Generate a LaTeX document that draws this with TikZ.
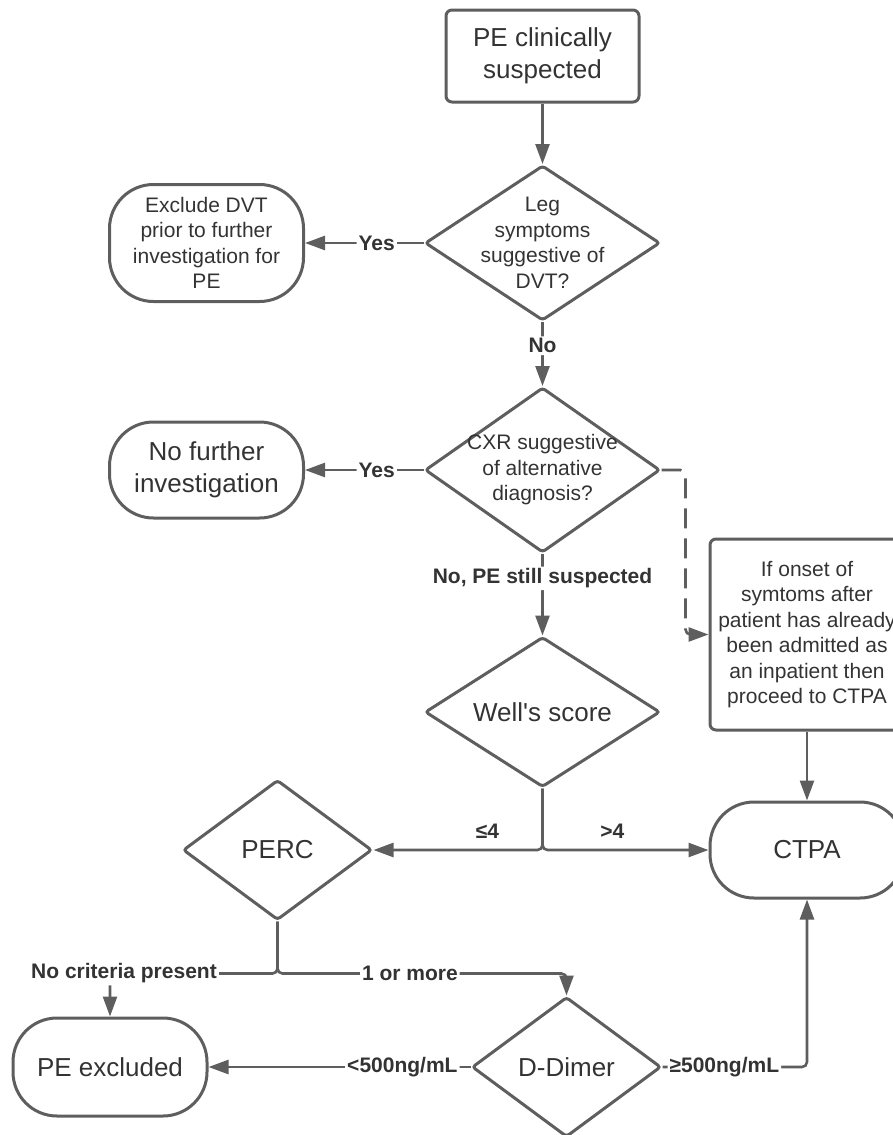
\documentclass[tikz,border=0pt]{standalone}
\usepackage{fontspec}
\setmainfont{Liberation Sans}
\usetikzlibrary{arrows.meta,shapes.geometric}
\definecolor{linegray}{RGB}{94,94,94}
\definecolor{textgray}{RGB}{51,51,51}

\begin{document}
\begin{tikzpicture}[
  x=1pt, y=-1pt,
  >={Triangle[length=20pt,width=14pt]},
  every node/.style={text=textgray},
  bigtext/.style={font=\fontsize{26}{31.5}\selectfont},
  smalltext/.style={font=\fontsize{21}{25.5}\selectfont},
  stepbox/.style={
    draw=linegray,
    line width=3pt,
    rounded corners=6pt,
    align=center,
    inner sep=0pt
  },
  endbox/.style={
    draw=linegray,
    line width=3pt,
    rounded corners=44pt,
    align=center,
    inner sep=0pt,
    minimum width=194pt,
    minimum height=96pt,
    bigtext
  },
  decision/.style={
    diamond,
    draw=linegray,
    line width=3pt,
    rounded corners=3pt,
    align=center,
    inner sep=-60pt,
    minimum width=235pt
  },
  flowarrow/.style={->, line width=2.6pt, draw=linegray, rounded corners=5pt},
  flowdash/.style={flowarrow, dash pattern=on 20pt off 10pt},
  branchlabel/.style={font=\fontsize{21}{25.5}\selectfont\bfseries, fill=white, inner sep=2pt}
]
\useasboundingbox (0,0) rectangle (893,1135);
\clip (0,0) rectangle (893,1135);

% main column
\node[stepbox, bigtext, minimum width=193pt, minimum height=92pt] (start) at (542.5,56) {PE clinically\\suspected};
\node[decision, smalltext, minimum height=155pt] (leg) at (542.5,243) {Leg\\symptoms\\suggestive of\\DVT?};
\node[decision, smalltext, minimum height=165pt] (cxr) at (542.5,470) {CXR suggestive\\of alternative\\diagnosis?};
\node[decision, bigtext, minimum height=150pt] (wells) at (542.5,712) {Well\textquotesingle s score};

% side outcomes
\node[endbox, smalltext, minimum height=117pt] (dvt) at (206.5,243) {Exclude DVT\\prior to further\\investigation for\\PE};
\node[endbox] (nofurther) at (206.5,470) {No further\\investigation};
\node[stepbox, smalltext, minimum width=194pt, minimum height=191pt] (onset) at (807,634.5) {If onset of\\symtoms after\\patient has already\\been admitted as\\an inpatient then\\proceed to CTPA};
\node[endbox] (ctpa) at (807,850) {CTPA};

% lower part
\node[decision, bigtext, minimum width=189pt, minimum height=140pt] (perc) at (277.5,850) {PERC};
\node[endbox, minimum height=98pt] (peout) at (110,1067) {PE excluded};
\node[decision, bigtext, minimum width=189pt, minimum height=140pt] (ddimer) at (566.5,1067) {D-Dimer};

\draw[flowarrow] (start.south) -- (leg.north);
\draw[flowarrow] (leg.west) -- node[branchlabel, pos=0.395] {Yes} (dvt.east);
\draw[flowarrow] (leg.south) -- node[branchlabel, pos=0.37] {No} (cxr.north);
\draw[flowarrow] (cxr.west) -- node[branchlabel, pos=0.395] {Yes} (nofurther.east);
\draw[flowarrow] (cxr.south) -- node[branchlabel, pos=0.30] {No, PE still suspected} (wells.north);
\draw[flowdash] (cxr.east) -- ++(24,0) |- (onset.west);
\draw[flowarrow] (onset.south) -- (ctpa.north);

\draw[flowarrow] (wells.south) |- node[branchlabel, fill=none, above=8pt, pos=0.663] {≤4} (perc.east);
\draw[flowarrow] (wells.south) |- node[branchlabel, fill=none, above=8pt, pos=0.71] {>4} (ctpa.west);

\draw[flowarrow] (perc.south) -- ++(0,52) -| node[branchlabel, pos=0.5, xshift=14pt] {No criteria present} (peout.north);
\draw[flowarrow] (perc.south) -- ++(0,52) -| node[branchlabel, pos=0.229] {1 or more} (ddimer.north);

\draw[flowarrow] (ddimer.west) -- node[branchlabel, pos=0.26] {<500ng/mL} (peout.east);
\draw[flowarrow] (ddimer.east) -| node[branchlabel, pos=0.214] {≥500ng/mL} (ctpa.south);

\end{tikzpicture}
\end{document}
